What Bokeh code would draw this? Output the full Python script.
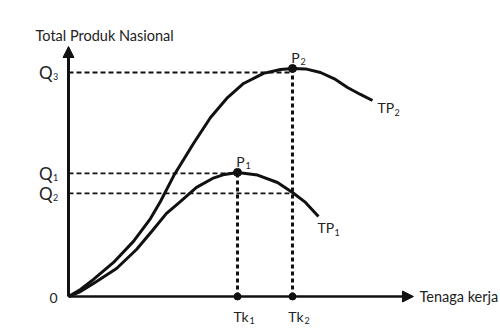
from bokeh.plotting import figure
from bokeh.models import Range1d, Arrow, NormalHead
from bokeh.core.properties import value
from bokeh.embed import file_html
from bokeh.resources import INLINE

# ---- data (arbitrary units) ----
labor_tp2 = [0, 1.07, 2.23, 4.02, 5.80, 7.32, 8.21, 9.46, 11.16, 12.68, 14.20, 15.63,
             17.41, 18.93, 20.0, 21.16, 22.5, 23.84, 24.91, 26.07, 27.14]
output_tp2 = [0, 3.1, 7.6, 15.2, 24.6, 34.8, 42.4, 54.5, 68.3, 79.9, 88.8, 95.1,
              99.6, 101.3, 101.8, 101.6, 100.0, 96.9, 93.3, 90.2, 87.5]

labor_tp1 = [0, 1.07, 2.23, 4.29, 6.07, 7.5, 8.75, 9.91, 11.43, 12.86, 13.93, 15.09,
             16.88, 18.66, 20.0, 21.16, 22.32]
output_tp1 = [0, 2.2, 5.8, 12.5, 21.0, 29.5, 37.1, 42.0, 48.7, 52.7, 54.5, 55.4,
              54.2, 50.9, 46.4, 42.0, 35.7]

tk_values = [15.09, 20.0]
tk_labels = ["Tk", "Tk"]
tk_subs = ["1", "2"]

q_values = [100.0, 55.0, 46.0]
q_labels = ["Q", "Q", "Q"]
q_subs = ["3", "1", "2"]
q_line_ends = [20.0, 15.09, 20.0]

peak_x = [15.09, 20.0]
peak_y = [55.4, 101.8]
peak_subs = ["1", "2"]

y_axis_top = 111.6
x_axis_end = 30.8

INK = "#111111"
TXT = "#222222"
FONT = value("Lato")

p = figure(width=500, height=329, output_backend="svg", toolbar_location=None,
           x_range=Range1d(-6.071, 38.571), y_range=Range1d(-14.73, 132.14),
           min_border=0)
p.axis.visible = False
p.grid.visible = False
p.outline_line_color = None
p.background_fill_color = "white"
p.border_fill_color = "white"

# dashed guide lines
p.segment(x0=[0] * len(q_values), y0=q_values, x1=q_line_ends, y1=q_values,
          line_color=INK, line_width=1.8, line_dash="5 3")
p.segment(x0=tk_values, y0=[0, 0], x1=tk_values, y1=peak_y,
          line_color=INK, line_width=3, line_dash="4 3")

# curves
p.line(labor_tp2, output_tp2, line_color=INK, line_width=3, line_join="round")
p.line(labor_tp1, output_tp1, line_color=INK, line_width=3, line_join="round")

# axes with arrows
p.add_layout(Arrow(end=NormalHead(size=11, fill_color=INK, line_color=INK, line_width=1),
                   x_start=0, y_start=0, x_end=0, y_end=y_axis_top,
                   line_color=INK, line_width=3))
p.add_layout(Arrow(end=NormalHead(size=11, fill_color=INK, line_color=INK, line_width=1),
                   x_start=0, y_start=0, x_end=x_axis_end, y_end=0,
                   line_color=INK, line_width=2.5))

# points
p.scatter(peak_x, peak_y, size=8, color=INK)
p.scatter(tk_values, [0, 0], size=7, color=INK)

# tick-like labels
p.text(x=[0] * 3, y=q_values, text=q_labels, text_font=FONT, text_font_size="17px",
       text_align="right", text_baseline="middle", x_offset=-16, text_color=TXT)
p.text(x=[0] * 3, y=q_values, text=q_subs, text_font=FONT, text_font_size="9px",
       text_align="left", text_baseline="middle", x_offset=-15.5, y_offset=4, text_color=TXT)

p.text(x=[0], y=[0], text=["0"], text_font=FONT, text_font_size="14px",
       text_align="right", text_baseline="middle", x_offset=-11, y_offset=1, text_color=TXT)

p.text(x=tk_values, y=[0, 0], text=tk_labels, text_font=FONT, text_font_size="14px",
       text_align="center", text_baseline="middle", x_offset=3.5, y_offset=20, text_color=TXT)
p.text(x=tk_values, y=[0, 0], text=tk_subs, text_font=FONT, text_font_size="9px",
       text_align="left", text_baseline="middle", x_offset=12, y_offset=24, text_color=TXT)

p.text(x=peak_x, y=peak_y, text=["P", "P"], text_font=FONT, text_font_size="14px",
       text_align="center", text_baseline="middle", x_offset=3, y_offset=-11, text_color=TXT)
p.text(x=peak_x, y=peak_y, text=peak_subs, text_font=FONT, text_font_size="9px",
       text_align="left", text_baseline="middle", x_offset=8, y_offset=-7, text_color=TXT)

# curve labels
p.text(x=[labor_tp2[-1], labor_tp1[-1]], y=[output_tp2[-1], output_tp1[-1]],
       text=["TP", "TP"], text_font=FONT, text_font_size="14px",
       text_align="left", text_baseline="middle", x_offset=[5, -1], y_offset=[7, 11],
       text_color=TXT)
p.text(x=[labor_tp2[-1], labor_tp1[-1]], y=[output_tp2[-1], output_tp1[-1]],
       text=["2", "1"], text_font=FONT, text_font_size="9px",
       text_align="left", text_baseline="middle", x_offset=[22, 16], y_offset=[12, 16],
       text_color=TXT)

# axis titles
p.text(x=[0], y=[y_axis_top], text=["Total Produk Nasional"], text_font=FONT,
       text_font_size="14.5px", text_align="left", text_baseline="middle",
       x_offset=-33, y_offset=-11, text_color=TXT)
p.text(x=[x_axis_end], y=[0], text=["Tenaga kerja"], text_font=FONT,
       text_font_size="14.5px", text_align="left", text_baseline="middle",
       x_offset=6, y_offset=0, text_color=TXT)

open("out.html", "w").write(file_html(p, INLINE))
